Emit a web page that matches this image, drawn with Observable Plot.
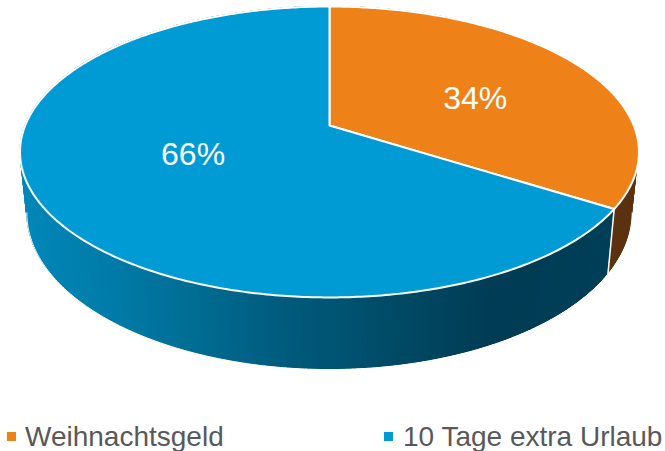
<!DOCTYPE html>
<html lang="de">
<head>
<meta charset="utf-8">
<script src="https://cdn.jsdelivr.net/npm/d3@7"></script>
<script src="https://cdn.jsdelivr.net/npm/@observablehq/plot@0.6"></script>
<style>
html,body{margin:0;padding:0;background:#fff;overflow:hidden}
#chart{width:665px;height:451px;position:relative;font-family:"Liberation Sans",Arial,sans-serif}
#chart svg{display:block}
.key{position:absolute;top:420px;height:31px;line-height:33px;font-size:28px;color:#595959;white-space:nowrap}
.key i{position:absolute;top:12px;left:0;width:9px;height:9px}
.key span{position:absolute;top:0}
</style>
</head>
<body>
<div id="chart"></div>
<script>
// Chart values
const categories = ["Weihnachtsgeld", "10 Tage extra Urlaub"];
const shares = [34, 66];
const sliceColors = ["#EF8119", "#009BD4"];
const sideColors = ["#5C3210", null];
// Side-wall shading of the blue slice, read left to right
const shadeAt = [25, 120, 200, 300, 400, 490, 610];
const shadeColors = ["#0087B8", "#007AA6", "#006C92", "#00597A", "#004964", "#003C54", "#003F58"];
const labelShift = [[18, 5.5], [3, -6]];

const W = 665, H = 420;
// Perspective of the tilted disc
const cx = 329, cy = 125, R = 304.3, b = 117.9, c = -0.182;
const depth = 59, shrink = 0.978;

const top_ = (theta, r = 1) => {
  const s = Math.sin(theta) * r, t = -Math.cos(theta) * r, d = 1 + c * t;
  return {x: cx + R * s / d, y: (cy + b * t) / d};
};
const bottom = theta => {
  const p = top_(theta), d = 1 - c * Math.cos(theta);
  return {x: cx + (p.x - cx) * shrink, y: p.y + depth / d};
};

const total = d3.sum(shares);
let acc = 0;
const slices = shares.map((v, i) => {
  const a0 = acc / total * 2 * Math.PI;
  acc += v;
  const a1 = acc / total * 2 * Math.PI;
  return {i, v, a0, a1, name: categories[i]};
});

const shade = d3.scaleLinear().domain(shadeAt).range(shadeColors).clamp(true);

// Wedges of the top face
const wedge = s => {
  const n = Math.ceil((s.a1 - s.a0) * 90), pts = [{x: cx, y: cy}];
  for (let k = 0; k <= n; k++) pts.push(top_(s.a0 + (s.a1 - s.a0) * k / n));
  return pts;
};

// Side wall: each piece of a slice runs on under its neighbours so no seams show
const strips = [];
slices.forEach(s => {
  const n = Math.ceil((s.a1 - s.a0) * 70), step = (s.a1 - s.a0) / n;
  for (let k = 0; k < n; k++) {
    const a = s.a0 + step * k, e = s.a0 + step * (k + 1);
    const mid = top_((a + e) / 2);
    strips.push({i: s.i, a, e, step, lo: s.a0, hi: s.a1, key: mid.y,
      color: sideColors[s.i] ?? shade(mid.x), id: `${s.i}-${k}`});
  }
});
strips.sort((p, q) => p.key - q.key);
const stripRows = strips.flatMap(st => {
  const from = Math.max(st.lo, st.a - st.step * 0.8), to = Math.min(st.hi, st.e + st.step * 0.8);
  return [from, st.a, st.e, to].map(th => {
    const t = top_(th), u = bottom(th);
    return {id: st.id, color: st.color, x1: t.x, y1: t.y, x2: u.x, y2: u.y};
  });
});

// Lower rim, only the arc that faces the viewer
const rim = d3.range(0, 241).map(k => bottom(Math.PI * 0.558 + Math.PI * 0.884 * k / 240));
const wallEdge = [top_(slices[0].a1), bottom(slices[0].a1)];

const marks = [
  Plot.area(stripRows, {x1: "x1", y1: "y1", x2: "x2", y2: "y2", z: "id", fill: "color"}),
  Plot.line(rim, {x: "x", y: "y", stroke: "#fff", strokeWidth: 1}),
  Plot.line(wallEdge, {x: "x", y: "y", stroke: "#fff", strokeWidth: 1.5}),
  ...slices.map(s => Plot.line(wedge(s), {x: "x", y: "y", curve: "linear-closed",
    fill: sliceColors[s.i], stroke: "#fff", strokeWidth: 2, strokeLinejoin: "round"})),
  ...slices.map(s => {
    const p = top_((s.a0 + s.a1) / 2, 0.5);
    return Plot.text([{...p, label: `${s.v}%`}], {x: "x", y: "y", text: "label",
      dx: labelShift[s.i][0], dy: labelShift[s.i][1],
      fill: "#fff", fontSize: 32, fontFamily: "Liberation Sans, Arial, sans-serif"});
  })
];

const chart = Plot.plot({
  width: W, height: H, margin: 0,
  x: {domain: [0, W], range: [0, W], axis: null},
  y: {domain: [0, H], range: [0, H], axis: null},
  style: {background: "#fff", overflow: "visible"},
  marks
});
const host = document.getElementById("chart");
host.appendChild(chart);

// Legend below the plot
const keyLeft = [7, 384], keyGap = [18, 19];
categories.forEach((name, i) => {
  const el = document.createElement("div");
  el.className = "key";
  el.style.left = keyLeft[i] + "px";
  el.innerHTML = `<i style="background:${sliceColors[i]}"></i><span style="left:${keyGap[i]}px">${name}</span>`;
  host.appendChild(el);
});
</script>
</body>
</html>
